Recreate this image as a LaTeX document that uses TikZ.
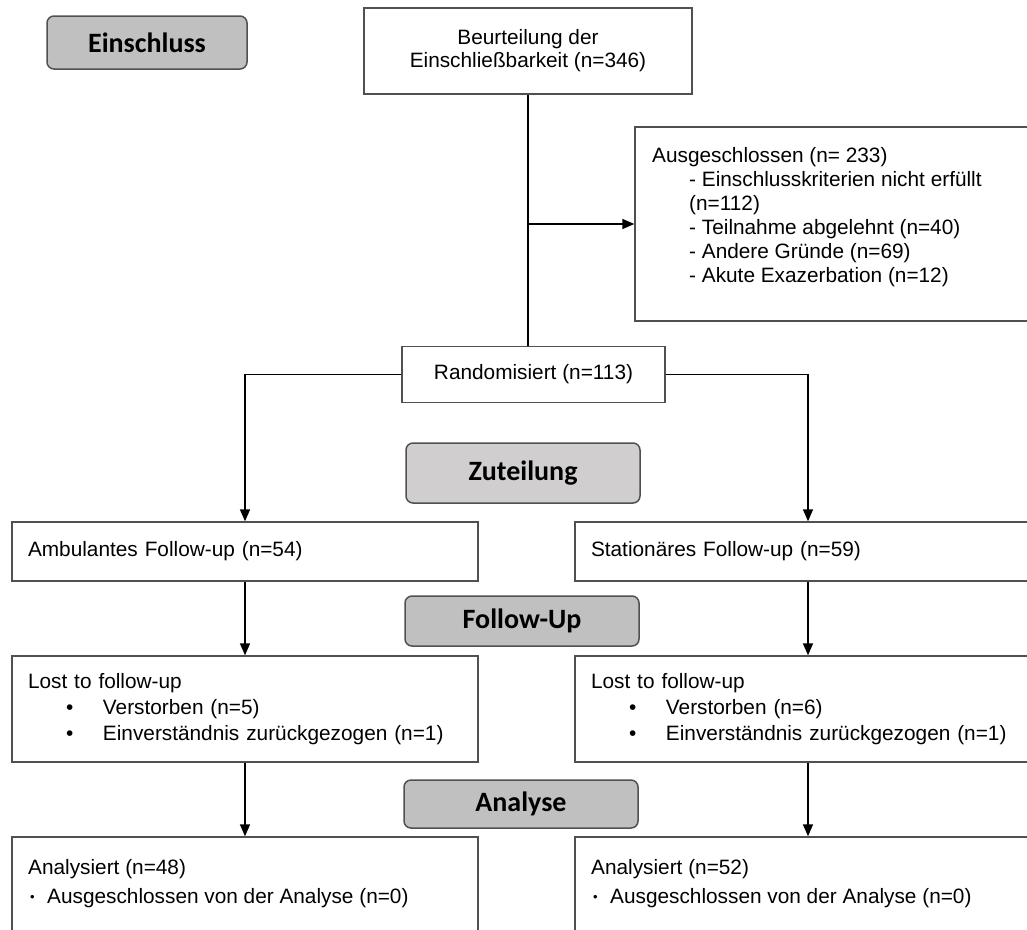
\documentclass[tikz,border=0pt]{standalone}
\usepackage{fontspec}
\setmainfont{Liberation Sans}
\newfontfamily\stagefont{Carlito}
\usetikzlibrary{arrows.meta,positioning}
\definecolor{fcGray}{HTML}{C0C0C0}
\definecolor{fcLight}{HTML}{D0CECE}
\definecolor{fcEdge}{HTML}{505050}
\newcommand{\lostitem}[1]{\hspace*{38pt}\makebox[37pt][l]{•}#1}
\newcommand{\anaitem}[1]{\hspace*{2pt}\makebox[17pt][l]{\raisebox{1.5pt}{\fontsize{13}{13}\selectfont•}}#1}

\begin{document}
\begin{tikzpicture}[x=1pt,y=-1pt,
  box/.style={draw=fcEdge, line width=1.4pt, fill=white, inner sep=0pt, font=\fontsize{20.8}{26}\selectfont},
  stage/.style={draw=fcEdge, line width=1.5pt, fill=fcGray, rounded corners=7pt, inner sep=0pt, minimum width=234pt, font=\stagefont\bfseries\fontsize{28}{30}\selectfont},
  txt/.style={inner sep=0pt, align=left, anchor=north west},
  link/.style={line width=1.6pt},
  arr/.style={link, -{Triangle[length=12pt,width=10pt]}}]
  \useasboundingbox (0,0) rectangle (1027,929);
  \clip (0,0) rectangle (1027,929);

  % stage labels
  \node[stage, minimum width=200pt, minimum height=53pt] (einschluss) at (147,42.5) {Einschluss};
  \node[stage, fill=fcLight, minimum height=60pt] (zuteilung) at (523,473) {Zuteilung};
  \node[stage, minimum height=50pt] (followup) at (522,621) {Follow-Up};
  \node[stage, minimum height=48pt] (analyse) at (521,804) {Analyse};

  % enrolment
  \node[box, minimum width=328pt, minimum height=86pt, align=center, font=\fontsize{20.8}{23}\selectfont] (assess) at (528,51) {Beurteilung der\\Einschließbarkeit (n=346)};
  \node[box, minimum width=405pt, minimum height=194pt] (excl) at (837.5,224) {};
  \node[txt, font=\fontsize{20.8}{24}\selectfont] (excltxt) at (652,147) {Ausgeschlossen (n= 233)\\
    \hspace*{37pt}- Einschlusskriterien nicht erfüllt\\
    \hspace*{37pt}(n=112)\\
    \hspace*{37pt}- Teilnahme abgelehnt (n=40)\\
    \hspace*{37pt}- Andere Gründe (n=69)\\
    \hspace*{37pt}- Akute Exazerbation (n=12)};
  \node[box, minimum width=263pt, minimum height=56pt] (rand) at (533.5,374.5) {Randomisiert (n=113)};

  % allocation
  \node[box, minimum width=466pt, minimum height=59pt, text width=434pt, align=left] (amb) at (245,551.5) {Ambulantes Follow-up (n=54)};
  \node[box, minimum width=466pt, minimum height=59pt, text width=434pt, align=left] (stat) at (808,551.5) {Stationäres Follow-up (n=59)};

  % follow-up
  \node[box, minimum width=466pt, minimum height=106pt, text width=434pt, align=left] (lostA) at (245,709) {Lost to follow-up\\
    \lostitem{Verstorben (n=5)}\\
    \lostitem{Einverständnis zurückgezogen (n=1)}};
  \node[box, minimum width=466pt, minimum height=106pt, text width=434pt, align=left] (lostS) at (808,709) {Lost to follow-up\\
    \lostitem{Verstorben (n=6)}\\
    \lostitem{Einverständnis zurückgezogen (n=1)}};

  % analysis
  \node[box, minimum width=466pt, minimum height=123pt] (anaA) at (245,898.5) {};
  \node[box, minimum width=466pt, minimum height=123pt] (anaS) at (808,898.5) {};
  \node[txt, font=\fontsize{20.8}{29}\selectfont] (anaAtxt) at (28,859) {Analysiert (n=48)\\
    \anaitem{Ausgeschlossen von der Analyse (n=0)}};
  \node[txt, font=\fontsize{20.8}{29}\selectfont] (anaStxt) at (591,859) {Analysiert (n=52)\\
    \anaitem{Ausgeschlossen von der Analyse (n=0)}};

  % connectors
  \draw[link] (assess.south) -- (assess.south |- rand.north);
  \draw[arr] (assess.south |- excl.west) -- (excl.west);
  \draw[arr] (rand.west) -| (amb.north);
  \draw[arr] (rand.east) -| (stat.north);
  \draw[arr] (amb.south) -- (lostA.north);
  \draw[arr] (stat.south) -- (lostS.north);
  \draw[arr] (lostA.south) -- (anaA.north);
  \draw[arr] (lostS.south) -- (anaS.north);
\end{tikzpicture}
\end{document}
